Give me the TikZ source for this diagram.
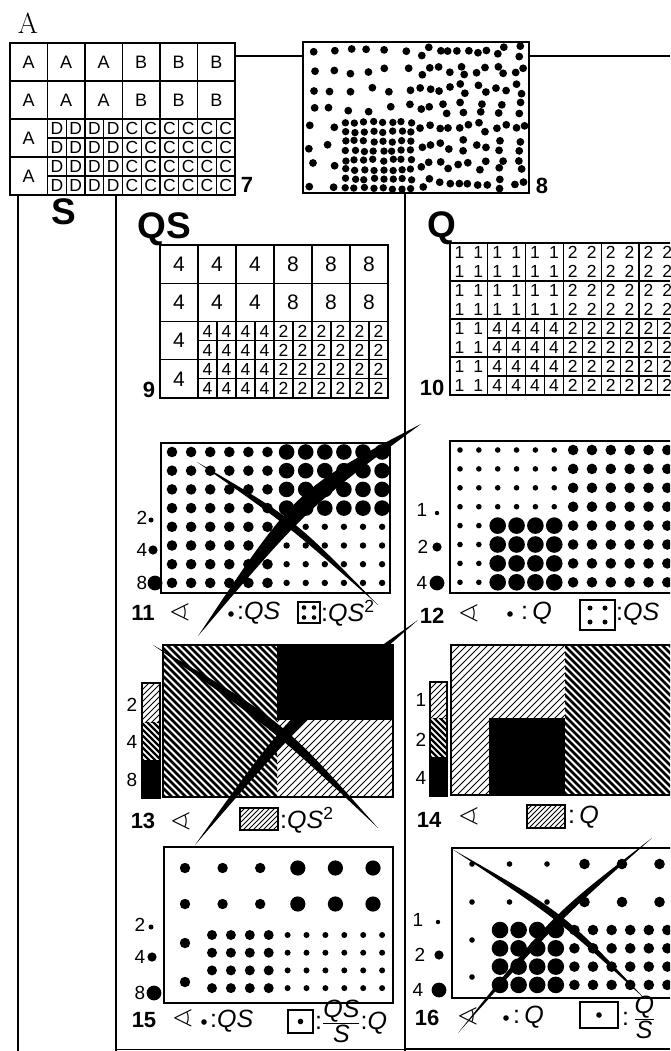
\documentclass[tikz,border=0pt]{standalone}
\usepackage{fontspec}
\setsansfont{Liberation Sans}
\usepackage{amssymb}
\usetikzlibrary{calc}

% "\" hatching in the box (#1,#2)-(#3,#4), period #5, line width #6
\newcommand{\hatchNW}[6]{%
  \begin{scope}
    \clip (#1,#2) rectangle (#3,#4);
    \pgfmathsetmacro{\hL}{#4-#2+10}
    \foreach \hk in {0,...,80}
      \draw[line width=#6] ({#1-\hL+\hk*#5},{#2-5}) -- ++(\hL,\hL);
  \end{scope}}
% "/" hatching
\newcommand{\hatchNE}[6]{%
  \begin{scope}
    \clip (#1,#2) rectangle (#3,#4);
    \pgfmathsetmacro{\hL}{#4-#2+10}
    \foreach \hk in {0,...,80}
      \draw[line width=#6] ({#1-\hL+\hk*#5},{#4+5}) -- ++(\hL,-\hL);
  \end{scope}}
% brush stroke: start, bend, end, half width
\newcommand{\brush}[4]{%
  \fill (#1) .. controls ($(#2)!#4!90:(#3)$) .. (#3)
        .. controls ($(#2)!#4!-90:(#3)$) .. (#1);}

\begin{document}
\begin{tikzpicture}[
  x=1pt, y=-1pt,
  panel/.style={draw, line width=1.3pt, inner sep=0pt, outer sep=0pt, anchor=north west},
  gridline/.style={line width=1.1pt},
  link/.style={line width=2.4pt},
  cell/.style={font=\sffamily\fontsize{18}{18}\selectfont, inner sep=0pt},
  subcell/.style={font=\sffamily\fontsize{17.5}{17.5}\selectfont, inner sep=0pt},
  bigcell/.style={font=\sffamily\fontsize{21}{21}\selectfont, inner sep=0pt},
  heading/.style={font=\sffamily\bfseries\fontsize{37}{37}\selectfont, inner sep=0pt},
  fignum/.style={font=\sffamily\bfseries\fontsize{22}{22}\selectfont, inner sep=0pt},
  legnum/.style={font=\sffamily\fontsize{19}{19}\selectfont, inner sep=0pt},
  captxt/.style={font=\sffamily\itshape\fontsize{25}{25}\selectfont, inner sep=0pt, anchor=west},
  eye/.style={font=\fontsize{22}{22}\selectfont, inner sep=0pt, scale=1.3},
  keybox/.style={draw, line width=1.1pt, inner sep=0pt, outer sep=0pt, anchor=north west},
]

\useasboundingbox (0,0) rectangle (670,1051);
\fill[white] (0,0) rectangle (670,1051);
\clip (0,0) rectangle (670,1051);

\node[font=\rmfamily\fontsize{29}{29}\selectfont, inner sep=0pt] (partA) at (28,23) {A};

% =====================================================================
% Table 7 (letters)
% =====================================================================
\pgfmathsetmacro{\ax}{10}
\pgfmathsetmacro{\ay}{43}
\pgfmathsetmacro{\cw}{37.5}
\pgfmathsetmacro{\rh}{38}

\foreach \k in {1,...,5} \draw[gridline] (\ax+\k*\cw,\ay) -- ++(0,4*\rh);
\foreach \row in {1,2,3} \draw[gridline] (\ax,\ay+\row*\rh) -- ++(6*\cw,0);
\foreach \row in {2.5,3.5} \draw[gridline] (\ax+\cw,\ay+\row*\rh) -- ++(5*\cw,0);
\foreach \k in {1.5,2.5,3.5,4.5,5.5} \draw[gridline] (\ax+\k*\cw,\ay+2*\rh) -- ++(0,2*\rh);

\foreach \l [count=\k from 0] in {A,A,A,B,B,B}{
  \foreach \row in {0,1}
    \node[cell] (a7-\k-\row) at ({\ax+(\k+0.5)*\cw},{\ay+(\row+0.5)*\rh}) {\l};
}
\foreach \row in {2,3}
  \node[cell] (a7-0-\row) at ({\ax+0.5*\cw},{\ay+(\row+0.5)*\rh}) {A};
\foreach \l [count=\k from 0] in {D,D,D,D,C,C,C,C,C,C}{
  \foreach \row in {0,...,3}
    \node[subcell] (s7-\k-\row) at ({\ax+\cw+(\k+0.5)*\cw/2},{\ay+2*\rh+(\row+0.5)*\rh/2}) {\l};
}
\node[panel, minimum width=225, minimum height=152] (t7) at (\ax,\ay) {};
\node[fignum] (n7) at (247,185) {7};

% =====================================================================
% Dot map 8 (one dot per unit)
% =====================================================================
\pgfmathsetseed{4242}
\foreach \i in {0,...,11}{
  \foreach \j in {0,...,7}{
    \pgfmathtruncatemacro{\q}{(\i>5) ? 2 : ((\j<4) ? 1 : ((\i<2) ? 1 : 4))}
    \pgfmathsetmacro{\cx}{303+(\i+0.5)*18.83}
    \pgfmathsetmacro{\cy}{42+(\j+0.5)*18.9}
    \ifnum\q=1
      \fill ({\cx+4*rand},{\cy+4*rand}) circle (3.9);
    \fi
    \ifnum\q=2
      \pgfmathsetmacro{\ang}{180*rnd}
      \fill ({\cx+4.8*cos(\ang)+1.5*rand},{\cy+4.8*sin(\ang)+1.5*rand}) circle (3.9);
      \fill ({\cx-4.8*cos(\ang)+1.5*rand},{\cy-4.8*sin(\ang)+1.5*rand}) circle (3.9);
    \fi
    \ifnum\q=4
      \foreach \di/\dj in {-1/-1,1/-1,-1/1,1/1}
        \fill ({\cx+4.7*\di+rand},{\cy+4.7*\dj+rand}) circle (3.7);
    \fi
  }
}
\node[panel, minimum width=226, minimum height=151] (m8) at (303,42) {};
\node[fignum] (n8) at (542,186) {8};

% links between the columns
\coordinate (lnR) at (670,56);
\coordinate (bS)  at (18,1051);
\coordinate (bQS) at (116,1051);
\coordinate (bQ)  at (405,1051);
\draw[link] (t7.east |- lnR) -- (m8.west |- lnR);
\draw[link] (m8.east |- lnR) -- (lnR);
\draw[link] (t7.south -| bS) -- (bS);
\draw[link] (t7.south -| bQS) -- (bQS);
\draw[link] (m8.south -| bQ) -- (bQ);
\draw[line width=0.8pt] (bQS) ++(0,-2) -- (404,1049);
\draw[link] (bQ) ++(0,-2) -- (670,1049);

\node[heading] (hS)  at (64,212)  {S};
\node[heading] (hQS) at (164,229) {QS};
\node[heading] (hQ)  at (442,228) {Q};

% =====================================================================
% Table 9 (QS)
% =====================================================================
\pgfmathsetmacro{\bx}{160}
\pgfmathsetmacro{\by}{245}
\pgfmathsetmacro{\cw}{38}
\pgfmathsetmacro{\rh}{38.25}

\foreach \k in {1,...,5} \draw[gridline] (\bx+\k*\cw,\by) -- ++(0,4*\rh);
\foreach \row in {1,2,3} \draw[gridline] (\bx,\by+\row*\rh) -- ++(6*\cw,0);
\foreach \row in {2.5,3.5} \draw[gridline] (\bx+\cw,\by+\row*\rh) -- ++(5*\cw,0);
\foreach \k in {1.5,2.5,3.5,4.5,5.5} \draw[gridline] (\bx+\k*\cw,\by+2*\rh) -- ++(0,2*\rh);

\foreach \l [count=\k from 0] in {4,4,4,8,8,8}{
  \foreach \row in {0,1}
    \node[bigcell] (a9-\k-\row) at ({\bx+(\k+0.5)*\cw},{\by+(\row+0.5)*\rh}) {\l};
}
\foreach \row in {2,3}
  \node[bigcell] (a9-0-\row) at ({\bx+0.5*\cw},{\by+(\row+0.5)*\rh}) {4};
\foreach \l [count=\k from 0] in {4,4,4,4,2,2,2,2,2,2}{
  \foreach \row in {0,...,3}
    \node[subcell] (s9-\k-\row) at ({\bx+\cw+(\k+0.5)*\cw/2},{\by+2*\rh+(\row+0.5)*\rh/2}) {\l};
}
\node[panel, minimum width=228, minimum height=153] (t9) at (\bx,\by) {};
\node[fignum] (n9) at (149,390) {9};

% =====================================================================
% Table 10 (Q)
% =====================================================================
\pgfmathsetmacro{\bx}{450}
\pgfmathsetmacro{\by}{243}
\pgfmathsetmacro{\cw}{37.8}
\pgfmathsetmacro{\rh}{38}

\foreach \k in {1,...,5} \draw[gridline] (\bx+\k*\cw,\by) -- ++(0,4*\rh);
\foreach \row in {1,2,3} \draw[gridline] (\bx,\by+\row*\rh) -- ++(6*\cw,0);
\foreach \row in {2.5,3.5} \draw[gridline] (\bx+\cw,\by+\row*\rh) -- ++(5*\cw,0);
\foreach \k in {1.5,2.5,3.5,4.5,5.5} \draw[gridline] (\bx+\k*\cw,\by+2*\rh) -- ++(0,2*\rh);

\foreach \l [count=\k from 0] in {1,1,1,2,2,2}{
  \foreach \row in {0,1}{
    \foreach \di in {0,1}{
      \foreach \dj in {0,1}
        \node[subcell] (u10-\k-\row-\di-\dj) at ({\bx+\k*\cw+(\di+0.5)*\cw/2},{\by+\row*\rh+(\dj+0.5)*\rh/2}) {\l};
    }
  }
}
\foreach \row in {4,5,6,7}{
  \foreach \di in {0,1}
    \node[subcell] (w10-\row-\di) at ({\bx+(\di+0.5)*\cw/2},{\by+(\row+0.5)*\rh/2}) {1};
}
\foreach \l [count=\k from 0] in {4,4,4,4,2,2,2,2,2,2}{
  \foreach \row in {0,...,3}
    \node[subcell] (s10-\k-\row) at ({\bx+\cw+(\k+0.5)*\cw/2},{\by+2*\rh+(\row+0.5)*\rh/2}) {\l};
}
\node[panel, minimum width=226.8, minimum height=152] (t10) at (\bx,\by) {};
\node[fignum] (n10) at (432,388) {10};

% =====================================================================
% Panel 11 : dots QS
% =====================================================================
\foreach \i in {0,...,11}{
  \foreach \j in {0,...,7}{
    \pgfmathsetmacro{\rad}{(\i<6) ? 5.3 : ((\j<4) ? 7.8 : 3.2)}
    \fill ({172+\i*19.1},{452+\j*18.7}) circle (\rad);
  }
}
\node[panel, minimum width=229, minimum height=150] (p11) at (161,443) {};
\node[legnum] (l11a) at (142,518) {2}; \fill (151,520) circle (2.5);
\node[legnum] (l11b) at (142,550) {4}; \fill (153,550) circle (4.6);
\node[legnum] (l11c) at (142,583) {8}; \fill (155,583) circle (7.4);
\brush{198,636}{302,498}{421,424}{11pt}
\brush{197,462}{291,522}{378,605}{4.5pt}
\node[fignum] (n11) at (143,613) {11};
\node[eye] (e11) at (180,613) {$\sphericalangle$};
\fill (231,614) circle (2.8);
\node[captxt] (c11a) at (237,613) {{\upshape:}QS};
\node[keybox, minimum width=22, minimum height=21] (k11) at (298,602) {};
\foreach \di/\dj in {-1/-1,1/-1,-1/1,1/1} \fill ($(k11.center)+(5*\di,5*\dj)$) circle (2.3);
\node[captxt] (c11b) at (321,613) {{\upshape:}QS\textsuperscript{\upshape 2}};

% =====================================================================
% Panel 12 : dots Q
% =====================================================================
\foreach \i in {0,...,11}{
  \foreach \j in {0,...,7}{
    \pgfmathsetmacro{\rad}{(\j<4) ? ((\i<6) ? 2.8 : 5.3) : ((\i<2) ? 2.8 : ((\i<6) ? 8.3 : 5.3))}
    \fill ({460+\i*18.85},{450+\j*18.9}) circle (\rad);
  }
}
\node[panel, minimum width=230, minimum height=152] (p12) at (450,441) {};
\node[legnum] (l12a) at (422,510) {1}; \fill (437,513) circle (2.2);
\node[legnum] (l12b) at (423,547) {2}; \fill (437,547) circle (4.6);
\node[legnum] (l12c) at (422,583) {4}; \fill (437,583) circle (7.4);
\node[fignum] (n12) at (432,616) {12};
\node[eye] (e12) at (469,614) {$\sphericalangle$};
\fill (510,614) circle (2.8);
\node[captxt] (c12a) at (521,613) {{\upshape:}\,Q};
\node[keybox, minimum width=35, minimum height=30] (k12) at (580,600) {};
\foreach \di/\dj in {-1/-1,1/-1,-1/1,1/1} \fill ($(k12.center)+(7.5*\di,7*\dj)$) circle (2.5);
\node[captxt] (c12b) at (616,614) {{\upshape:}QS};

% =====================================================================
% Panel 13 : hatching QS
% =====================================================================
\hatchNW{163}{645}{277}{797}{7}{2.5}
\fill (277,645) rectangle (393,720);
\hatchNE{277}{720}{393}{797}{7}{0.9}
\node[panel, minimum width=230, minimum height=152] (p13) at (163,645) {};
\hatchNE{142}{683}{160}{722}{6}{0.9}
\hatchNW{142}{722}{160}{760}{6}{2.2}
\fill (142,760) rectangle (160,798);
\node[keybox, minimum width=18, minimum height=115] (b13) at (142,683) {};
\node[legnum] (l13a) at (132,705) {2};
\node[legnum] (l13b) at (132,742) {4};
\node[legnum] (l13c) at (132,780) {8};
\brush{195,845}{298,714}{418,620}{8pt}
\brush{153,645}{278,725}{378,828}{6.5pt}
\node[fignum] (n13) at (143,821) {13};
\node[eye] (e13) at (181,822) {$\sphericalangle$};
\hatchNE{240}{808}{278}{830}{5}{0.8}
\node[keybox, minimum width=38, minimum height=22] (k13) at (240,808) {};
\node[captxt] (c13) at (280,820) {{\upshape:}QS\textsuperscript{\upshape 2}};

% =====================================================================
% Panel 14 : hatching Q
% =====================================================================
\hatchNE{451}{645}{565}{795}{7}{0.9}
\fill (489,718) rectangle (565,795);
\hatchNW{565}{645}{682}{795}{7}{2.5}
\node[panel, minimum width=230, minimum height=150] (p14) at (451,645) {};
\hatchNE{430}{682}{447}{718}{6}{0.9}
\hatchNW{430}{718}{447}{757}{6}{2.2}
\fill (430,757) rectangle (447,796);
\node[keybox, minimum width=17, minimum height=114] (b14) at (430,682) {};
\node[legnum] (l14a) at (421,700) {1};
\node[legnum] (l14b) at (421,740) {2};
\node[legnum] (l14c) at (421,778) {4};
\node[fignum] (n14) at (429,820) {14};
\node[eye] (e14) at (469,817) {$\sphericalangle$};
\hatchNE{527}{805}{565}{828}{5}{0.8}
\node[keybox, minimum width=38, minimum height=23] (k14) at (527,805) {};
\node[captxt] (c14) at (568,817) {{\upshape:}\,Q};

% =====================================================================
% Panel 15 : QS / S
% =====================================================================
\foreach \k in {0,...,5}{
  \pgfmathsetmacro{\rad}{(\k<3) ? 5.2 : 7.6}
  \foreach \yy in {868,904} \fill ({185+\k*37.6},\yy) circle (\rad);
}
\foreach \yy in {943,982} \fill (185,\yy) circle (5.2);
\foreach \i in {0,...,9}{
  \pgfmathsetmacro{\rad}{(\i<4) ? 5 : 3}
  \foreach \j in {0,...,3} \fill ({212+\i*18.9},{935+\j*17.7}) circle (\rad);
}
\node[panel, minimum width=229, minimum height=156] (p15) at (164,847) {};
\node[legnum] (l15a) at (140,925) {2}; \fill (151,927) circle (2.5);
\node[legnum] (l15b) at (140,957) {4}; \fill (152,957) circle (4.6);
\node[legnum] (l15c) at (140,993) {8}; \fill (154,993) circle (7.4);
\node[fignum] (n15) at (144,1020) {15};
\node[eye] (e15) at (183,1019) {$\sphericalangle$};
\fill (204,1022) circle (2.8);
\node[captxt] (c15a) at (210,1021) {{\upshape:}QS};
\node[keybox, minimum width=25, minimum height=23] (k15) at (288,1010) {};
\fill (k15.center) circle (2.8);
\node[captxt] (c15b) at (315,1021) {{\upshape:}$\frac{\textit{QS}}{\textit{S}}${\upshape:}Q};

% =====================================================================
% Panel 16 : Q / S
% =====================================================================
\foreach \k in {0,...,5}{
  \pgfmathsetmacro{\rad}{(\k<3) ? 2.8 : 5.3}
  \foreach \yy in {864,902} \fill ({472+\k*37.5},\yy) circle (\rad);
}
\foreach \yy in {940,977} \fill (472,\yy) circle (2.8);
\foreach \i in {0,...,9}{
  \pgfmathsetmacro{\rad}{(\i<4) ? 8.3 : 5.3}
  \foreach \j in {0,...,3} \fill ({500+\i*18.6},{930+\j*18.3}) circle (\rad);
}
\node[panel, minimum width=230, minimum height=150] (p16) at (452,848) {};
\node[legnum] (l16a) at (418,920) {1}; \fill (438,922) circle (2.2);
\node[legnum] (l16b) at (420,955) {2}; \fill (439,955) circle (4.6);
\node[legnum] (l16c) at (418,990) {4}; \fill (439,990) circle (7.4);
\brush{458,1033}{555,918}{652,838}{4.5pt}
\brush{452,849}{561,916}{645,999}{4.5pt}
\node[fignum] (n16) at (427,1018) {16};
\node[eye] (e16) at (468,1017) {$\sphericalangle$};
\fill (506,1018) circle (2.8);
\node[captxt] (c16a) at (513,1017) {{\upshape:}\,Q};
\node[keybox, minimum width=38, minimum height=26] (k16) at (580,1002) {};
\fill (k16.center) circle (2.8);
\node[captxt] (c16b) at (622,1017) {{\upshape:}\,$\frac{\textit{Q}}{\textit{S}}$};

\end{tikzpicture}
\end{document}
